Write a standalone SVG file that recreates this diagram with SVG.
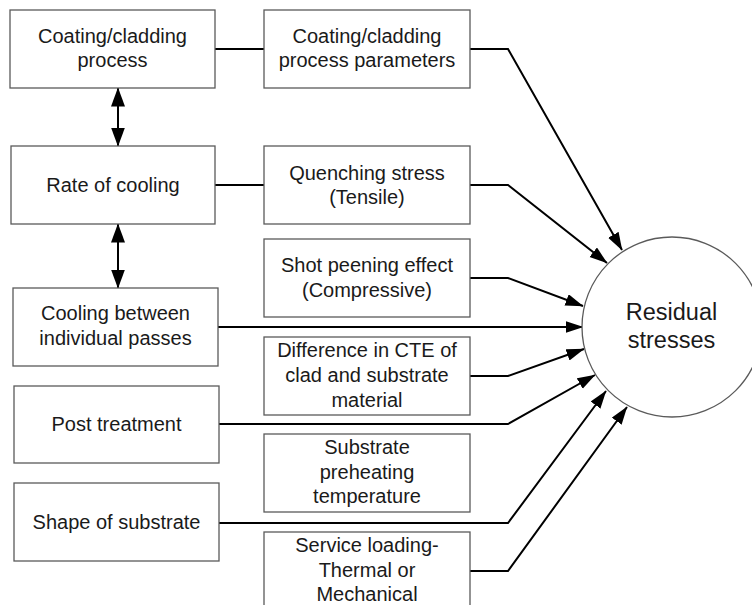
<svg xmlns="http://www.w3.org/2000/svg" width="752" height="605" viewBox="0 0 752 605">
  <style>
    .box { fill: #fff; stroke: #5a5a5a; stroke-width: 1.3; }
    .lbl { font-family: "Liberation Sans", Arial, sans-serif; font-size: 20px; fill: #1a1a1a; text-anchor: middle; }
    .big { font-size: 23.5px; }
    .wire { fill: none; stroke: #000; stroke-width: 2; }
    .arrow { marker-end: url(#head); }
    .both { marker-start: url(#head-wide); marker-end: url(#head-wide); }
  </style>
  <defs>
    <marker id="head" markerUnits="userSpaceOnUse" markerWidth="20" markerHeight="14" refX="17.5" refY="6" orient="auto-start-reverse">
      <path d="M0,0 L18,6 L0,12 z" fill="#000"/>
    </marker>
    <marker id="head-wide" markerUnits="userSpaceOnUse" markerWidth="20" markerHeight="16" refX="18.5" refY="7" orient="auto-start-reverse">
      <path d="M0,0 L19,7 L0,14 z" fill="#000"/>
    </marker>
  </defs>

  <rect width="752" height="605" fill="#fff"/>

  <!-- connectors -->
  <g id="connectors">
    <path class="wire" d="M215,49 H264"/>
    <path class="wire" d="M215,185 H264"/>
    <path class="wire both" d="M118,88 V146"/>
    <path class="wire both" d="M118,224 V288"/>
    <path class="wire arrow" d="M470,49 H508 L622,250"/>
    <path class="wire arrow" d="M470,185 H508 L607,263"/>
    <path class="wire arrow" d="M470,278 H508 L583,306"/>
    <path class="wire arrow" d="M218,327 H583"/>
    <path class="wire arrow" d="M470,376 H508 L584,349"/>
    <path class="wire arrow" d="M219,424 H508 L595,375"/>
    <path class="wire arrow" d="M219,523 H508 L606,391"/>
    <path class="wire arrow" d="M470,571 H508 L627,407"/>
  </g>

  <!-- left column -->
  <g id="coating-process">
    <rect class="box" x="10" y="10" width="205" height="78"/>
    <text class="lbl" x="112.5" y="43">Coating/cladding</text>
    <text class="lbl" x="112.5" y="67">process</text>
  </g>
  <g id="rate-of-cooling">
    <rect class="box" x="11" y="146" width="204" height="78"/>
    <text class="lbl" x="113" y="192">Rate of cooling</text>
  </g>
  <g id="cooling-between-passes">
    <rect class="box" x="13" y="288" width="205" height="78"/>
    <text class="lbl" x="115.5" y="320">Cooling between</text>
    <text class="lbl" x="115.5" y="345">individual passes</text>
  </g>
  <g id="post-treatment">
    <rect class="box" x="14" y="386" width="205" height="77"/>
    <text class="lbl" x="116.5" y="431">Post treatment</text>
  </g>
  <g id="shape-of-substrate">
    <rect class="box" x="14" y="483" width="205" height="78"/>
    <text class="lbl" x="116.5" y="529">Shape of substrate</text>
  </g>

  <!-- middle column -->
  <g id="process-parameters">
    <rect class="box" x="264" y="10" width="206" height="78"/>
    <text class="lbl" x="367" y="43">Coating/cladding</text>
    <text class="lbl" x="367" y="67">process parameters</text>
  </g>
  <g id="quenching-stress">
    <rect class="box" x="264" y="146" width="206" height="78"/>
    <text class="lbl" x="367" y="180">Quenching stress</text>
    <text class="lbl" x="367" y="204">(Tensile)</text>
  </g>
  <g id="shot-peening">
    <rect class="box" x="264" y="239" width="206" height="78"/>
    <text class="lbl" x="367" y="272">Shot peening effect</text>
    <text class="lbl" x="367" y="297">(Compressive)</text>
  </g>
  <g id="cte-difference">
    <rect class="box" x="264" y="337" width="206" height="78"/>
    <text class="lbl" x="367" y="357">Difference in CTE of</text>
    <text class="lbl" x="367" y="382">clad and substrate</text>
    <text class="lbl" x="367" y="407">material</text>
  </g>
  <g id="substrate-preheating">
    <rect class="box" x="264" y="434" width="206" height="78"/>
    <text class="lbl" x="367" y="454">Substrate</text>
    <text class="lbl" x="367" y="479">preheating</text>
    <text class="lbl" x="367" y="503">temperature</text>
  </g>
  <g id="service-loading">
    <rect class="box" x="264" y="532" width="206" height="90"/>
    <text class="lbl" x="367" y="552">Service loading-</text>
    <text class="lbl" x="367" y="577">Thermal or</text>
    <text class="lbl" x="367" y="601">Mechanical</text>
  </g>

  <!-- outcome -->
  <g id="residual-stresses">
    <circle cx="672" cy="327" r="90" fill="#fff" stroke="#5a5a5a" stroke-width="1.3"/>
    <text class="lbl big" x="671.5" y="320">Residual</text>
    <text class="lbl big" x="671.5" y="348">stresses</text>
  </g>
</svg>
